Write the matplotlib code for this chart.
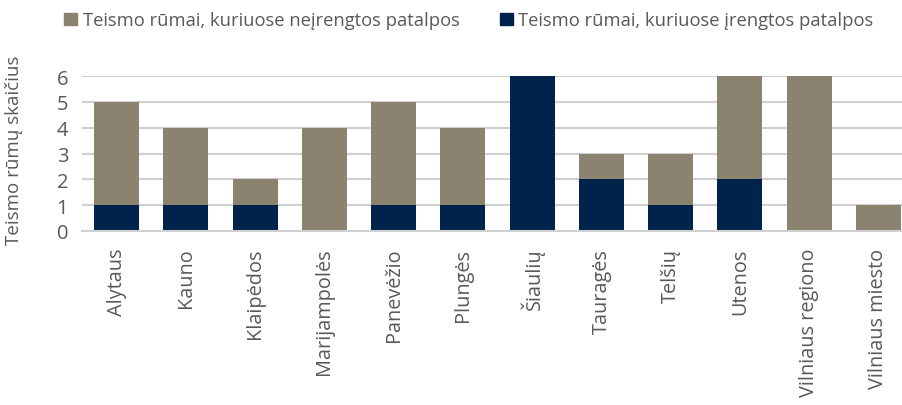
import matplotlib
matplotlib.use("Agg")
import matplotlib.pyplot as plt
from matplotlib.patches import Patch

categories = ["Alytaus", "Kauno", "Klaipėdos", "Marijampolės", "Panevėžio", "Plungės",
              "Šiaulių", "Tauragės", "Telšių", "Utenos", "Vilniaus regiono", "Vilniaus miesto"]
irengtos = [1, 1, 1, 0, 1, 1, 6, 2, 1, 2, 0, 0]
neirengtos = [4, 3, 1, 4, 4, 3, 0, 1, 2, 4, 6, 1]
yticks = [0, 1, 2, 3, 4, 5, 6]

lbl_ne = "Teismo rūmai, kuriuose neįrengtos patalpos"
lbl_ir = "Teismo rūmai, kuriuose įrengtos patalpos"

c_grey = "#8b8270"
c_navy = "#00234b"
txt = "#595959"

plt.rcParams['font.family'] = ['Open Sans', 'DejaVu Sans']

fig = plt.figure(figsize=(9.02, 4.06), dpi=100)
ax = fig.add_axes([0.091, 0.4286, 0.909, 0.3814])

x = list(range(len(categories)))
w = 0.65
ax.bar(x, irengtos, width=w, color=c_navy, zorder=2)
ax.bar(x, neirengtos, width=w, bottom=irengtos, color=c_grey, zorder=2)

ax.set_xlim(-0.5, 11.34)
ax.set_ylim(0, 6)
ax.set_yticks(yticks)
ax.set_xticks(x)
ax.set_xticklabels(categories, rotation=90, fontsize=14.3, color=txt)
ax.tick_params(axis='y', labelsize=14.5, colors=txt, length=0, pad=10)
ax.tick_params(axis='x', length=0, pad=12)
ax.yaxis.grid(True, color="#d0d0d0", linewidth=1.5, zorder=0)
ax.set_axisbelow(True)
for s in ["top", "right", "left"]:
    ax.spines[s].set_visible(False)
ax.spines["bottom"].set_color("#d0d0d0")
ax.spines["bottom"].set_linewidth(1.5)

ax.set_ylabel("Teismo rūmų skaičius", fontsize=13.5, color=txt)
ax.yaxis.set_label_coords(-0.072, 0.53)

handles = [Patch(color=c_grey, label=lbl_ne), Patch(color=c_navy, label=lbl_ir)]
fig.legend(handles=handles, loc="upper center", bbox_to_anchor=(0.52, 1.01), ncol=2,
           frameon=False, fontsize=13.2, labelcolor=txt, handlelength=0.7, handleheight=0.7,
           handletextpad=0.3, columnspacing=2.2)

fig.savefig("out.png", dpi=100)
